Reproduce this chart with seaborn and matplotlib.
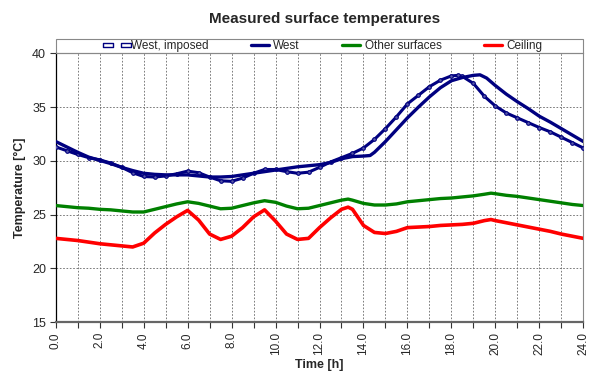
import matplotlib
matplotlib.use("Agg")
import matplotlib.pyplot as plt
from matplotlib.lines import Line2D
from matplotlib.patches import Rectangle
from matplotlib.path import Path
from matplotlib.ticker import MultipleLocator, FormatStrFormatter
import seaborn as sns
import pandas as pd

# ---- measured series (time in hours, temperature in degC) ----
t_imposed = [0, 0.5, 1, 1.5, 2, 2.5, 3, 3.5, 4, 4.5, 5, 5.5, 6, 6.5, 7, 7.5, 8, 8.5,
             9, 9.5, 10, 10.5, 11, 11.5, 12, 12.5, 13, 13.5, 14, 14.5, 15, 15.5, 16,
             16.5, 17, 17.5, 18, 18.3, 18.5, 19, 19.5, 20, 20.5, 21, 21.5, 22, 22.5,
             23, 23.5, 24]
west_imposed = [31.3, 30.95, 30.6, 30.3, 30.1, 29.8, 29.4, 28.9, 28.55, 28.5, 28.6, 28.8,
                29.05, 28.9, 28.5, 28.15, 28.1, 28.4, 28.85, 29.2, 29.2, 29.0, 28.85, 28.95,
                29.4, 29.9, 30.3, 30.7, 31.2, 32.0, 33.0, 34.1, 35.3, 36.1, 36.9, 37.5,
                37.9, 37.95, 37.85, 37.2, 36.0, 35.1, 34.45, 34.0, 33.55, 33.1, 32.7,
                32.2, 31.7, 31.2]

t_west = [0, 0.5, 1, 1.5, 2, 2.5, 3, 3.5, 4, 4.5, 5, 5.5, 6, 6.5, 7, 7.5, 8, 8.5, 9,
          9.5, 10, 10.5, 11, 11.5, 12, 12.5, 13, 13.5, 14, 14.3, 14.5, 15, 15.5, 16,
          16.5, 17, 17.5, 18, 18.5, 19, 19.3, 19.6, 20, 20.5, 21, 21.5, 22, 22.5, 23,
          23.5, 24]
west = [31.8, 31.3, 30.8, 30.35, 30.05, 29.75, 29.4, 29.1, 28.85, 28.75, 28.7, 28.7,
        28.7, 28.6, 28.5, 28.5, 28.55, 28.7, 28.85, 29.0, 29.15, 29.3, 29.45, 29.55,
        29.65, 29.85, 30.2, 30.4, 30.45, 30.5, 30.8, 31.8, 32.9, 34.0, 35.0, 35.95,
        36.8, 37.45, 37.75, 37.95, 38.0, 37.7, 37.0, 36.2, 35.5, 34.85, 34.15, 33.6,
        33.0, 32.4, 31.8]

t_other = [0, 0.5, 1, 1.5, 2, 2.5, 3, 3.5, 4, 4.5, 5, 5.5, 6, 6.5, 7, 7.5, 8, 8.5, 9,
           9.5, 10, 10.5, 11, 11.5, 12, 12.5, 13, 13.3, 13.5, 14, 14.5, 15, 15.5, 16,
           16.5, 17, 17.5, 18, 18.5, 19, 19.5, 19.8, 20, 20.5, 21, 21.5, 22, 22.5, 23,
           23.5, 24]
other_surfaces = [25.85, 25.75, 25.65, 25.6, 25.5, 25.45, 25.35, 25.25, 25.25, 25.5,
                  25.75, 26.0, 26.2, 26.05, 25.8, 25.55, 25.6, 25.85, 26.1, 26.3, 26.15,
                  25.8, 25.55, 25.6, 25.85, 26.1, 26.35, 26.45, 26.35, 26.05, 25.9, 25.9,
                  26.0, 26.2, 26.3, 26.4, 26.5, 26.55, 26.65, 26.75, 26.9, 27.0, 26.95,
                  26.8, 26.7, 26.55, 26.4, 26.25, 26.1, 25.95, 25.85]

t_ceiling = [0, 0.5, 1, 1.5, 2, 2.5, 3, 3.5, 4, 4.5, 5, 5.5, 6, 6.5, 7, 7.5, 8, 8.5, 9,
             9.5, 10, 10.5, 11, 11.5, 12, 12.5, 13, 13.3, 13.5, 14, 14.5, 15, 15.5, 16,
             16.5, 17, 17.5, 18, 18.5, 19, 19.5, 19.8, 20, 20.5, 21, 21.5, 22, 22.5, 23,
             23.5, 24]
ceiling = [22.8, 22.7, 22.6, 22.45, 22.3, 22.2, 22.1, 22.0, 22.35, 23.3, 24.1, 24.8,
           25.4, 24.5, 23.2, 22.7, 23.0, 23.8, 24.8, 25.45, 24.4, 23.2, 22.7, 22.8, 23.8,
           24.7, 25.5, 25.7, 25.5, 24.0, 23.35, 23.25, 23.45, 23.8, 23.85, 23.9, 24.0,
           24.05, 24.1, 24.2, 24.45, 24.55, 24.45, 24.25, 24.05, 23.85, 23.65, 23.45,
           23.2, 23.0, 22.8]

labels = ["West, imposed", "West", "Other surfaces", "Ceiling"]
colors = ["#000080", "#000080", "#008000", "#FF0000"]

sns.set_theme(style="white")
plt.rcParams["font.family"] = ["Liberation Sans", "DejaVu Sans"]

fig = plt.figure(figsize=(5.96, 3.78), dpi=100)
ax = fig.add_axes([0.0935, 0.1474, 0.8852, 0.7116])

df_imp = pd.DataFrame({"t": t_imposed, "T": west_imposed})
df_w = pd.DataFrame({"t": t_west, "T": west})
df_o = pd.DataFrame({"t": t_other, "T": other_surfaces})
df_c = pd.DataFrame({"t": t_ceiling, "T": ceiling})

# hollow oblong marker used for the imposed series
oblong = Path([(-1.6, -0.6), (1.6, -0.6), (1.6, 0.6), (-1.6, 0.6), (-1.6, -0.6)],
              [Path.MOVETO, Path.LINETO, Path.LINETO, Path.LINETO, Path.CLOSEPOLY])

sns.lineplot(data=df_imp, x="t", y="T", ax=ax, color=colors[0], lw=2.2,
             marker="o", markersize=2.6, markerfacecolor="#5a5aa8",
             markeredgecolor=colors[0], markeredgewidth=0.8, zorder=3)
sns.lineplot(data=df_w, x="t", y="T", ax=ax, color=colors[1], lw=2.4, zorder=4)
sns.lineplot(data=df_o, x="t", y="T", ax=ax, color=colors[2], lw=2.4, zorder=4)
sns.lineplot(data=df_c, x="t", y="T", ax=ax, color=colors[3], lw=2.6, zorder=5)

ax.set_xlim(0, 24)
ax.set_ylim(15, 40)
ax.xaxis.set_major_locator(MultipleLocator(2))
ax.xaxis.set_minor_locator(MultipleLocator(1))
ax.xaxis.set_major_formatter(FormatStrFormatter("%.1f"))
ax.yaxis.set_major_locator(MultipleLocator(5))

ax.grid(True, which="both", axis="x", color="#666666", ls=(0, (2, 2)), lw=0.6)
ax.grid(True, which="major", axis="y", color="#666666", ls=(0, (2, 2)), lw=0.6)
ax.set_axisbelow(True)

ax.tick_params(axis="x", which="both", direction="out", length=4, width=0.8,
               color="#333333", bottom=True, labelsize=8.5, labelrotation=90, pad=3)
ax.tick_params(axis="y", which="major", direction="out", length=4, width=0.8,
               color="#333333", left=True, labelsize=9, pad=3)

ax.spines["left"].set_color("#000000")
ax.spines["left"].set_linewidth(0.9)
ax.spines["bottom"].set_color("#666666")
ax.spines["bottom"].set_linewidth(1.6)
for side in ["top", "right"]:
    ax.spines[side].set_color("#888888")
    ax.spines[side].set_linewidth(0.8)

ax.set_xlabel("Time [h]", fontsize=9, fontweight="bold", labelpad=3)
ax.set_ylabel("Temperature [\u00b0C]", fontsize=9, fontweight="bold", labelpad=4)
fig.text(0.545, 0.95, "Measured surface temperatures", ha="center", va="center",
         fontsize=11, fontweight="bold")

# legend strip above the plotting area
ax.add_patch(Rectangle((0, 1.0), 1.0, 0.052, transform=ax.transAxes, fill=False,
                       edgecolor="#888888", lw=0.8, clip_on=False))
handles = [
    Line2D([], [], color=colors[0], ls="none", marker=oblong, markersize=7,
           markerfacecolor="white", markeredgecolor=colors[0], markeredgewidth=1.0),
    Line2D([], [], color=colors[1], lw=2.4),
    Line2D([], [], color=colors[2], lw=2.4),
    Line2D([], [], color=colors[3], lw=2.4),
]
leg = ax.legend(handles, labels, loc="center", bbox_to_anchor=(0.508, 1.026),
                ncol=4, frameon=False, fontsize=8.5, handlelength=2.1,
                handletextpad=0.1, columnspacing=3.3, numpoints=2,
                borderaxespad=0, borderpad=0)

fig.savefig("out.png", dpi=100)
